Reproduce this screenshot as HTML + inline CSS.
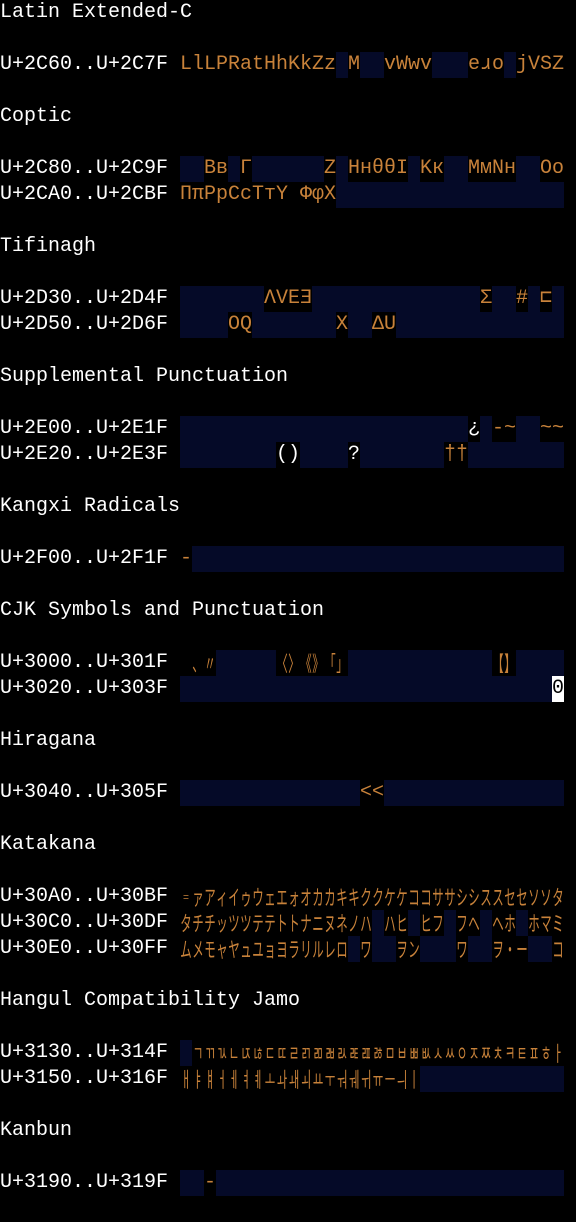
<!DOCTYPE html>
<html><head><meta charset="utf-8"><style>
body{margin:0;background:#000;width:576px;height:1222px;overflow:hidden;font:20px/26px "Liberation Mono","DejaVu Sans Mono",monospace;color:#fff}
.l{height:26px;white-space:pre;overflow:hidden}
.l i,.l b{display:inline-block;height:26px;vertical-align:top;font-style:normal;font-weight:normal}
.l i{width:12px;text-align:center;color:#c8823a}
.l b{width:12px;background:#050a28}
.l i.w{color:#fff}
.l i.x{background:#fff;color:#000}
.k i{width:22px;margin-right:-10px;transform:scaleX(.545);transform-origin:0 0;font-family:"Noto Sans CJK JP",sans-serif;font-size:21px;line-height:26px}
.h i{font-family:"Noto Sans CJK KR",sans-serif}
</style></head><body>
<div class="l">Latin Extended-C</div>
<div class="l"></div>
<div class="l">U+2C60..U+2C7F <i>L</i><i>l</i><i>L</i><i>P</i><i>R</i><i>a</i><i>t</i><i>H</i><i>h</i><i>K</i><i>k</i><i>Z</i><i>z</i><b></b><i>M</i><b style="width:24px"></b><i>v</i><i>W</i><i>w</i><i>v</i><b style="width:36px"></b><i>e</i><i>ɹ</i><i>o</i><b></b><i>j</i><i>V</i><i>S</i><i>Z</i></div>
<div class="l"></div>
<div class="l">Coptic</div>
<div class="l"></div>
<div class="l">U+2C80..U+2C9F <b style="width:24px"></b><i>B</i><i>в</i><b></b><i>Г</i><b style="width:72px"></b><i>Z</i><b></b><i>H</i><i>н</i><i>θ</i><i>θ</i><i>I</i><b></b><i>K</i><i>к</i><b style="width:24px"></b><i>M</i><i>м</i><i>N</i><i>н</i><b style="width:24px"></b><i>O</i><i>o</i></div>
<div class="l">U+2CA0..U+2CBF <i>Π</i><i>π</i><i>P</i><i>p</i><i>C</i><i>c</i><i>T</i><i>т</i><i>Y</i><i> </i><i>Φ</i><i>φ</i><i>X</i><b style="width:228px"></b></div>
<div class="l"></div>
<div class="l">Tifinagh</div>
<div class="l"></div>
<div class="l">U+2D30..U+2D4F <b style="width:84px"></b><i>Λ</i><i>V</i><i>E</i><i>Ǝ</i><b style="width:168px"></b><i>Σ</i><b style="width:24px"></b><i>#</i><b></b><i>⊏</i><b></b></div>
<div class="l">U+2D50..U+2D6F <b style="width:48px"></b><i>O</i><i>Q</i><b style="width:84px"></b><i>X</i><b style="width:24px"></b><i>Δ</i><i>U</i><b style="width:168px"></b></div>
<div class="l"></div>
<div class="l">Supplemental Punctuation</div>
<div class="l"></div>
<div class="l">U+2E00..U+2E1F <b style="width:288px"></b><i class="w">¿</i><b></b><i>-</i><i>~</i><b style="width:24px"></b><i>~</i><i>~</i></div>
<div class="l">U+2E20..U+2E3F <b style="width:96px"></b><i class="w">(</i><i class="w">)</i><b style="width:48px"></b><i class="w">?</i><b style="width:84px"></b><i>†</i><i>†</i><b style="width:96px"></b></div>
<div class="l"></div>
<div class="l">Kangxi Radicals</div>
<div class="l"></div>
<div class="l">U+2F00..U+2F1F <i>-</i><b style="width:372px"></b></div>
<div class="l"></div>
<div class="l">CJK Symbols and Punctuation</div>
<div class="l"></div>
<div class="l k">U+3000..U+301F <i> </i><i>、</i><i>〃</i><b style="width:60px"></b><i>〈</i><i>〉</i><i>《</i><i>》</i><i>「</i><i>」</i><b style="width:144px"></b><i>【</i><i>】</i><b style="width:48px"></b></div>
<div class="l">U+3020..U+303F <b style="width:372px"></b><i class="x">0</i></div>
<div class="l"></div>
<div class="l">Hiragana</div>
<div class="l"></div>
<div class="l">U+3040..U+305F <b style="width:180px"></b><i>&lt;</i><i>&lt;</i><b style="width:180px"></b></div>
<div class="l"></div>
<div class="l">Katakana</div>
<div class="l"></div>
<div class="l k">U+30A0..U+30BF <i>゠</i><i>ァ</i><i>ア</i><i>ィ</i><i>イ</i><i>ゥ</i><i>ウ</i><i>ェ</i><i>エ</i><i>ォ</i><i>オ</i><i>カ</i><i>カ</i><i>キ</i><i>キ</i><i>ク</i><i>ク</i><i>ケ</i><i>ケ</i><i>コ</i><i>コ</i><i>サ</i><i>サ</i><i>シ</i><i>シ</i><i>ス</i><i>ス</i><i>セ</i><i>セ</i><i>ソ</i><i>ソ</i><i>タ</i></div>
<div class="l k">U+30C0..U+30DF <i>タ</i><i>チ</i><i>チ</i><i>ッ</i><i>ツ</i><i>ツ</i><i>テ</i><i>テ</i><i>ト</i><i>ト</i><i>ナ</i><i>ニ</i><i>ヌ</i><i>ネ</i><i>ノ</i><i>ハ</i><b></b><i>ハ</i><i>ヒ</i><b></b><i>ヒ</i><i>フ</i><b></b><i>フ</i><i>ヘ</i><b></b><i>ヘ</i><i>ホ</i><b></b><i>ホ</i><i>マ</i><i>ミ</i></div>
<div class="l k">U+30E0..U+30FF <i>ム</i><i>メ</i><i>モ</i><i>ャ</i><i>ヤ</i><i>ュ</i><i>ユ</i><i>ョ</i><i>ヨ</i><i>ラ</i><i>リ</i><i>ル</i><i>レ</i><i>ロ</i><b></b><i>ワ</i><b style="width:24px"></b><i>ヲ</i><i>ン</i><b style="width:36px"></b><i>ワ</i><b style="width:24px"></b><i>ヲ</i><i>・</i><i>ー</i><b style="width:24px"></b><i>コ</i></div>
<div class="l"></div>
<div class="l">Hangul Compatibility Jamo</div>
<div class="l"></div>
<div class="l k h">U+3130..U+314F <b></b><i>ㄱ</i><i>ㄲ</i><i>ㄳ</i><i>ㄴ</i><i>ㄵ</i><i>ㄶ</i><i>ㄷ</i><i>ㄸ</i><i>ㄹ</i><i>ㄺ</i><i>ㄻ</i><i>ㄼ</i><i>ㄽ</i><i>ㄾ</i><i>ㄿ</i><i>ㅀ</i><i>ㅁ</i><i>ㅂ</i><i>ㅃ</i><i>ㅄ</i><i>ㅅ</i><i>ㅆ</i><i>ㅇ</i><i>ㅈ</i><i>ㅉ</i><i>ㅊ</i><i>ㅋ</i><i>ㅌ</i><i>ㅍ</i><i>ㅎ</i><i>ㅏ</i></div>
<div class="l k h">U+3150..U+316F <i>ㅐ</i><i>ㅑ</i><i>ㅒ</i><i>ㅓ</i><i>ㅔ</i><i>ㅕ</i><i>ㅖ</i><i>ㅗ</i><i>ㅘ</i><i>ㅙ</i><i>ㅚ</i><i>ㅛ</i><i>ㅜ</i><i>ㅝ</i><i>ㅞ</i><i>ㅟ</i><i>ㅠ</i><i>ㅡ</i><i>ㅢ</i><i>ㅣ</i><b style="width:144px"></b></div>
<div class="l"></div>
<div class="l">Kanbun</div>
<div class="l"></div>
<div class="l">U+3190..U+319F <b style="width:24px"></b><i>-</i><b style="width:348px"></b></div>
</body></html>
